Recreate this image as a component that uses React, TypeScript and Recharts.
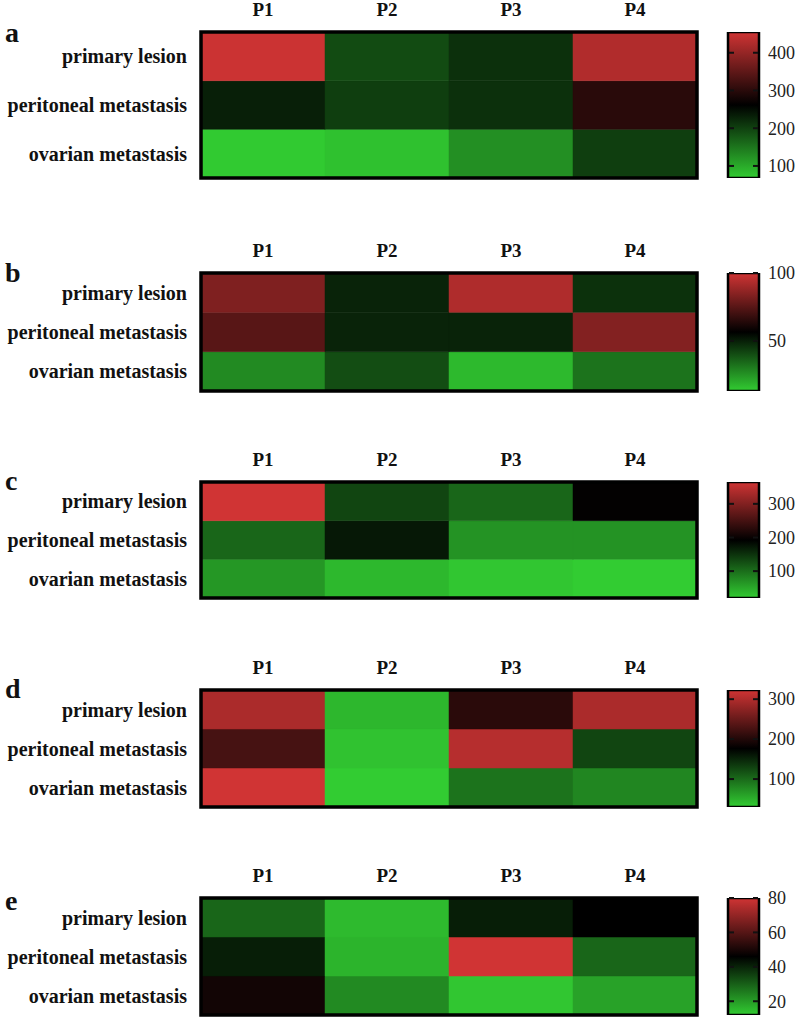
import React from 'react';
import { BarChart, Bar, Cell, XAxis, YAxis, ReferenceArea } from 'recharts';

const COLUMNS = ['P1', 'P2', 'P3', 'P4'];
const ROWS = ['primary lesion', 'peritoneal metastasis', 'ovarian metastasis'];

// panel a
const A_PRIMARY = [450, 190, 216, 426];
const A_PERITONEAL = [232, 203, 216, 300];
const A_OVARIAN = [70, 78, 126, 203];
const A_RANGE = [68, 455];
const A_TICKS = [100, 200, 300, 400];

// panel b
const B_PRIMARY = [83, 49, 93, 46];
const B_PERITONEAL = [75, 49, 49, 84];
const B_OVARIAN = [27, 40, 17, 32];
const B_RANGE = [13, 100];
const B_TICKS = [50, 100];

// panel c
const C_PRIMARY = [365, 134, 106, 195];
const C_PERITONEAL = [106, 172, 68, 68];
const C_OVARIAN = [65, 37, 25, 20];
const C_RANGE = [20, 365];
const C_TICKS = [100, 200, 300];

// panel d
const D_PRIMARY = [297, 45, 206, 297];
const D_PERITONEAL = [226, 37, 305, 127];
const D_OVARIAN = [323, 30, 94, 80];
const D_RANGE = [30, 323];
const D_TICKS = [100, 200, 300];

// panel e
const E_PRIMARY = [29, 15, 41, 46];
const E_PERITONEAL = [41, 16, 80, 29];
const E_OVARIAN = [49, 23, 13, 19];
const E_RANGE = [12, 80];
const E_TICKS = [20, 40, 60, 80];

const PANELS = [
  { letter: 'a', rows: [A_PRIMARY, A_PERITONEAL, A_OVARIAN], range: A_RANGE, ticks: A_TICKS },
  { letter: 'b', rows: [B_PRIMARY, B_PERITONEAL, B_OVARIAN], range: B_RANGE, ticks: B_TICKS },
  { letter: 'c', rows: [C_PRIMARY, C_PERITONEAL, C_OVARIAN], range: C_RANGE, ticks: C_TICKS },
  { letter: 'd', rows: [D_PRIMARY, D_PERITONEAL, D_OVARIAN], range: D_RANGE, ticks: D_TICKS },
  { letter: 'e', rows: [E_PRIMARY, E_PERITONEAL, E_OVARIAN], range: E_RANGE, ticks: E_TICKS },
];

// plot top/bottom (border centre) and letter baseline for each panel
const LAYOUT = [
  { top: 32, bottom: 178, base: 42 },
  { top: 273, bottom: 391, base: 282 },
  { top: 482, bottom: 598, base: 490 },
  { top: 690, bottom: 807, base: 698 },
  { top: 898, bottom: 1015, base: 910 },
];

const SERIF = '"Liberation Serif", "Times New Roman", serif';
const RED = [208, 52, 52];
const GREEN = [50, 204, 50];
const rgb = (c: number[], t = 1) => `rgb(${c.map((x) => Math.round(x * t)).join(',')})`;

// colour bar geometry
const BAR_W = 31;
const LABEL_W = 41;
const LABEL_GAP = 9;

const heatColor = (v: number, range: number[]) => {
  const [lo, hi] = range;
  const mid = (lo + hi) / 2;
  if (v >= mid) return rgb(RED, Math.min(1, (v - mid) / (hi - mid)));
  return rgb(GREEN, Math.min(1, (mid - v) / (mid - lo)));
};

// colour bar tick: label on the right plus short dashes on both inner edges
const ScaleTick = (props: any) => {
  const { x, y, payload } = props;
  const right = x - LABEL_GAP;
  const left = right - BAR_W;
  return (
    <g>
      <line x1={left + 1} x2={left + 6} y1={y} y2={y} stroke="#111" strokeWidth={2} />
      <line x1={right - 6} x2={right - 1} y1={y} y2={y} stroke="#111" strokeWidth={2} />
      <text x={x} y={y} dy="0.35em" textAnchor="start" fontFamily={SERIF} fontSize={18} fill="#222">
        {payload.value}
      </text>
    </g>
  );
};

// one unit band per row, stacked bottom-up (ovarian at the bottom)
const BAND_KEYS = [() => 1, () => 1, () => 1];

const Panel = ({ panel, layout }: any) => {
  const plotH = layout.bottom - layout.top;
  const data = COLUMNS.map((col) => ({ col }));
  const order = [2, 1, 0];
  const gid = `grad-${panel.letter}`;

  return (
    <>
      <div
        style={{
          position: 'absolute',
          left: 5,
          top: layout.base - 23,
          fontFamily: SERIF,
          fontWeight: 'bold',
          fontSize: 28,
          lineHeight: '28px',
          color: '#111',
        }}
      >
        {panel.letter}
      </div>

      <div style={{ position: 'absolute', left: 0, top: layout.top - 40 }}>
        <BarChart
          width={700}
          height={plotH + 43}
          data={data}
          margin={{ top: 0, right: 3, bottom: 3, left: 0 }}
          barCategoryGap={0}
          barGap={0}
        >
          <XAxis
            dataKey="col"
            orientation="top"
            height={40}
            axisLine={false}
            tickLine={false}
            tickSize={0}
            tickMargin={16}
            interval={0}
            tick={{ fontFamily: SERIF, fontSize: 19, fontWeight: 'bold', fill: '#111' }}
          />
          <YAxis
            type="number"
            domain={[0, 3]}
            ticks={[0.5, 1.5, 2.5]}
            width={201}
            axisLine={false}
            tickLine={false}
            tickSize={0}
            tickMargin={14}
            interval={0}
            tickFormatter={(v: number) => ROWS[Math.round(2.5 - v)]}
            tick={{ fontFamily: SERIF, fontSize: 20, fontWeight: 'bold', fill: '#111' }}
          />
          {order.map((r) => (
            <Bar key={ROWS[r]} dataKey={BAND_KEYS[r]} stackId="h" isAnimationActive={false}>
              {panel.rows[r].map((v: number, i: number) => (
                <Cell key={i} fill={heatColor(v, panel.range)} stroke={heatColor(v, panel.range)} strokeWidth={0.5} />
              ))}
            </Bar>
          ))}
          <ReferenceArea
            x1="P1"
            x2="P4"
            y1={0}
            y2={3}
            fill="none"
            fillOpacity={0}
            stroke="#000"
            strokeOpacity={1}
            strokeWidth={3.5}
            ifOverflow="visible"
            zIndex={2000}
          />
        </BarChart>
      </div>

      <div style={{ position: 'absolute', left: 725, top: layout.top - 12 }}>
        <BarChart
          width={3 + BAR_W + LABEL_W}
          height={plotH + 15}
          data={[{ name: 'scale', range: panel.range }]}
          margin={{ top: 12, right: 0, bottom: 3, left: 3 }}
          barCategoryGap={0}
        >
          <defs>
            <linearGradient id={gid} x1="0" y1="0" x2="0" y2="1">
              <stop offset="0" stopColor={rgb(RED)} />
              <stop offset="0.5" stopColor="#000" />
              <stop offset="1" stopColor={rgb(GREEN)} />
            </linearGradient>
          </defs>
          <XAxis dataKey="name" hide />
          <Bar
            dataKey="range"
            fill={`url(#${gid})`}
            stroke="#000"
            strokeWidth={2.5}
            isAnimationActive={false}
          />
          <YAxis
            type="number"
            orientation="right"
            width={LABEL_W}
            domain={panel.range}
            allowDataOverflow
            ticks={panel.ticks}
            interval={0}
            axisLine={false}
            tickLine={false}
            tickSize={0}
            tickMargin={LABEL_GAP}
            tick={<ScaleTick />}
            zIndex={2000}
          />
        </BarChart>
      </div>
    </>
  );
};

export default function App() {
  return (
    <div
      style={{
        position: 'absolute',
        left: 0,
        top: 0,
        width: 800,
        height: 1019,
        overflow: 'hidden',
        background: '#fff',
      }}
    >
      {PANELS.map((p, i) => (
        <Panel key={p.letter} panel={p} layout={LAYOUT[i]} />
      ))}
    </div>
  );
}
